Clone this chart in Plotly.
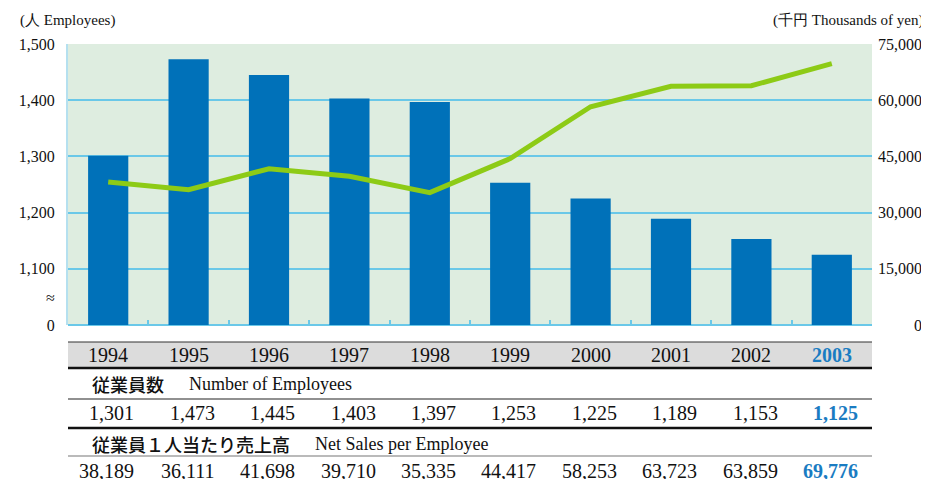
import plotly.graph_objects as go

years = ["1994", "1995", "1996", "1997", "1998", "1999", "2000", "2001", "2002", "2003"]
employees = [1301, 1473, 1445, 1403, 1397, 1253, 1225, 1189, 1153, 1125]
sales_per_employee = [38189, 36111, 41698, 39710, 35335, 44417, 58253, 63723, 63859, 69776]

left_tickvals = [1000, 1050, 1100, 1200, 1300, 1400, 1500]
left_ticktext = ["0", "≈", "1,100", "1,200", "1,300", "1,400", "1,500"]
right_tickvals = [0, 15000, 30000, 45000, 60000, 75000]

BAR = "#0071b9"
LINE = "#8dcb16"
GRID = "#6ac8e8"
BLUE_TXT = "#1a7cc2"
SERIF = "Liberation Serif"
CJK = "Noto Sans CJK JP"

# the page body adds an 8px offset; target pixel coords are from the window corner
OFF = 8
FIG_W, FIG_H = 929 - OFF, 479 - OFF
TOP, BOTTOM, LEFT, RIGHT = 44, 325, 68, 872
H = BOTTOM - TOP
W = RIGHT - LEFT


def py(pix):
    return (BOTTOM - pix) / H


def px(pix):
    return (pix - LEFT) / W


x = list(range(len(years)))

fig = go.Figure()
fig.add_trace(go.Bar(x=x, y=employees, width=0.5, marker=dict(color=BAR, line=dict(width=0)),
                     yaxis="y", hoverinfo="skip"))
fig.add_trace(go.Scatter(x=x, y=sales_per_employee, mode="lines", yaxis="y2",
                         line=dict(color=LINE, width=5), hoverinfo="skip"))

annotations = []
shapes = []

# right axis labels
for v in right_tickvals:
    annotations.append(dict(x=px(924), xref="paper", y=v, yref="y2", xanchor="right", yanchor="middle",
                            text=f"{v:,}", showarrow=False, font=dict(family=SERIF, size=16, color="#111")))

# axis titles
annotations.append(dict(x=px(18), xref="paper", y=py(20), yref="paper", xanchor="left", yanchor="middle",
                        text="(人 Employees)", showarrow=False, font=dict(family=SERIF, size=15, color="#111")))
annotations.append(dict(x=px(925), xref="paper", y=py(20), yref="paper", xanchor="right", yanchor="middle",
                        text="(千円 Thousands of yen)", showarrow=False, font=dict(family=SERIF, size=15, color="#111")))

# table
shapes.append(dict(type="rect", xref="x", yref="paper", x0=-0.5, x1=9.5, y0=py(368), y1=py(342),
                   fillcolor="#dcdcdc", line=dict(width=0), layer="below"))
for ypix, w, c in [(342, 1.2, "#333"), (368, 2.5, "#111"), (399, 1.2, "#222"), (428, 2.5, "#111"), (456, 1.2, "#777")]:
    shapes.append(dict(type="line", xref="x", yref="paper", x0=-0.5, x1=9.5, y0=py(ypix), y1=py(ypix),
                       line=dict(color=c, width=w)))

last = len(years) - 1
for i, yr in enumerate(years):
    hl = i == last
    annotations.append(dict(x=i, xref="x", y=py(355), yref="paper", xanchor="center", yanchor="middle",
                            text=f"<b>{yr}</b>" if hl else yr, showarrow=False,
                            font=dict(family=SERIF, size=20, color=BLUE_TXT if hl else "#111")))
    annotations.append(dict(x=i + 0.35, xref="x", y=py(413), yref="paper", xanchor="right", yanchor="middle",
                            text=f"<b>{employees[i]:,}</b>" if hl else f"{employees[i]:,}", showarrow=False,
                            font=dict(family=SERIF, size=20, color=BLUE_TXT if hl else "#111")))
    annotations.append(dict(x=i + 0.35, xref="x", y=py(471), yref="paper", xanchor="right", yanchor="middle",
                            text=f"<b>{sales_per_employee[i]:,}</b>" if hl else f"{sales_per_employee[i]:,}",
                            showarrow=False,
                            font=dict(family=SERIF, size=20, color=BLUE_TXT if hl else "#111")))

for jp, en, ypix, enx in [("従業員数", "Number of Employees", 384, 187),
                          ("従業員１人当たり売上高", "Net Sales per Employee", 444, 313)]:
    annotations.append(dict(x=px(90), xref="paper", y=py(ypix), yref="paper", xanchor="left", yanchor="middle",
                            text=jp, showarrow=False, font=dict(family=CJK, size=18, color="#111", weight=500)))
    annotations.append(dict(x=px(enx), xref="paper", y=py(ypix), yref="paper", xanchor="left", yanchor="middle",
                            text=en, showarrow=False, font=dict(family=SERIF, size=18, color="#111")))

fig.update_layout(
    width=FIG_W, height=FIG_H,
    margin=dict(l=LEFT - OFF, r=929 - RIGHT, t=TOP - OFF, b=479 - BOTTOM, autoexpand=False),
    paper_bgcolor="white", plot_bgcolor="#deede0",
    showlegend=False, bargap=0.5,
    xaxis=dict(range=[-0.5, 9.5], tickmode="array", tickvals=[i - 0.5 for i in range(11)],
               ticktext=[""] * 11, ticks="inside", ticklen=5, tickwidth=2, tickcolor=GRID,
               showgrid=False, zeroline=False, showline=False, fixedrange=True),
    yaxis=dict(range=[1000, 1500], tickmode="array", tickvals=left_tickvals, ticktext=left_ticktext,
               showgrid=False, zeroline=False, showline=True, linecolor="#b5e0ef", linewidth=2,
               ticks="", ticklabelstandoff=8,
               tickfont=dict(family=SERIF, size=16, color="#111")),
    yaxis2=dict(range=[0, 75000], overlaying="y", side="right", tickmode="array", tickvals=right_tickvals,
                showticklabels=False, showgrid=True, gridcolor=GRID, gridwidth=2,
                zeroline=True, zerolinecolor=GRID, zerolinewidth=2, showline=False),
    annotations=annotations, shapes=shapes,
)

fig.write_html("out.html")
